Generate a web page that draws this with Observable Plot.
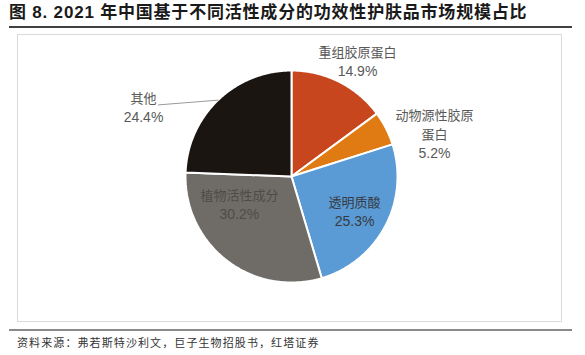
<!DOCTYPE html>
<html>
<head>
<meta charset="utf-8">
<script src="https://cdn.jsdelivr.net/npm/d3@7"></script>
<script src="https://cdn.jsdelivr.net/npm/@observablehq/plot@0.6"></script>
<style>
  body { margin: 0; background: #fff; }
  #page { position: relative; width: 585px; height: 355px; overflow: hidden; font-family: "Liberation Sans", "Noto Sans CJK SC", sans-serif; }
  #title { position: absolute; left: 9px; top: 3px; font-size: 17px; font-weight: bold; color: #1a1a1a; letter-spacing: 0.8px; white-space: nowrap; line-height: 20px; }
  #rule1 { position: absolute; left: 9px; top: 26px; width: 563px; height: 2px; background: #404040; }
  #box { position: absolute; left: 17px; top: 34px; width: 545px; height: 288px; box-sizing: border-box; border: 1px solid #dadada; }
  #chart { position: absolute; left: 17px; top: 34px; }
  #rule2 { position: absolute; left: 9px; top: 329px; width: 563px; height: 2px; background: #8a8a8a; }
  #source { position: absolute; left: 17px; top: 335px; font-size: 11px; letter-spacing: 1.1px; color: #333; font-family: "Noto Sans CJK SC", sans-serif; line-height: 15px; white-space: nowrap; }
  g[aria-label="names"] text { letter-spacing: 1px; }
</style>
</head>
<body>
<div id="page">
  <div id="title">图 8. 2021 年中国基于不同活性成分的功效性护肤品市场规模占比</div>
  <div id="rule1"></div>
  <div id="box"></div>
  <div id="chart"></div>
  <div id="rule2"></div>
  <div id="source">资料来源：弗若斯特沙利文，巨子生物招股书，红塔证券</div>
</div>
<script>
// ---- data ----
const categories = ["重组胶原蛋白", "动物源性胶原蛋白", "透明质酸", "植物活性成分", "其他"];
const shares = [14.9, 5.2, 25.3, 30.2, 24.4];
const valueLabels = ["14.9%", "5.2%", "25.3%", "30.2%", "24.4%"];

// ---- styling / layout (kept separate from data) ----
const sliceColors = ["#C8461E", "#DF7B12", "#5B9BD5", "#6F6C68", "#1B1512"];
const labelColors = ["#595959", "#595959", "#363a42", "#4e4b47", "#595959"];
const labelAngles = [30.0, 73.7, 119.7, 241.3, 294.7];   // degrees, clockwise from top
const labelRadii = [1.245, 1.405, 0.685, 0.56, 1.537];    // in pie radii
const leaderFor = 4;                                       // "其他" has a leader line
const leaderEnd = [298.3, 1.425];

const W = 545, H = 288, CX = 274, CY = 142, R = 106, LINE = 18.5;

const data = categories.map((c, i) => ({cat: c, share: shares[i], value: valueLabels[i], i}));
const arcs = d3.pie().sort(null).value(d => d.share)(data);

// polygon points per slice (unit radius, y up)
const poly = [];
for (const a of arcs) {
  poly.push({cat: a.data.cat, x: 0, y: 0});
  const n = Math.max(2, Math.ceil((a.endAngle - a.startAngle) / 0.01));
  for (let k = 0; k <= n; k++) {
    const t = a.startAngle + (a.endAngle - a.startAngle) * k / n;
    poly.push({cat: a.data.cat, x: Math.sin(t), y: Math.cos(t)});
  }
}

// label rows
const nameRows = [], valueRows = [];
arcs.forEach((a, i) => {
  const ang = labelAngles[i] * Math.PI / 180;
  const bx = labelRadii[i] * Math.sin(ang), by = labelRadii[i] * Math.cos(ang);
  const name = a.data.cat;
  const lines = name.length > 6 ? [name.slice(0, 6), name.slice(6)] : [name];
  const total = lines.length + 1;
  lines.forEach((t, k) => {
    const off = (k - (total - 1) / 2) * LINE / R;
    nameRows.push({text: t, x: bx, y: by - off, color: labelColors[i]});
  });
  const off = ((total - 1) - (total - 1) / 2) * LINE / R;
  valueRows.push({text: a.data.value, x: bx, y: by - off, color: labelColors[i]});
});

// leader line
const la = arcs[leaderFor];
const mid = (la.startAngle + la.endAngle) / 2;
const le = leaderEnd[0] * Math.PI / 180;
const leader = [
  {x: Math.sin(mid), y: Math.cos(mid)},
  {x: leaderEnd[1] * Math.sin(le), y: leaderEnd[1] * Math.cos(le)}
];

const colorsUsed = [...new Set(labelColors)];
const textMarks = [];
for (const c of colorsUsed) {
  textMarks.push(Plot.text(nameRows.filter(d => d.color === c), {
    x: "x", y: "y", text: "text", fill: c, fontSize: 13,
    fontFamily: "Noto Sans CJK SC", textAnchor: "middle", ariaLabel: "names"
  }));
  textMarks.push(Plot.text(valueRows.filter(d => d.color === c), {
    x: "x", y: "y", text: "text", fill: c, fontSize: 14,
    fontFamily: "Liberation Sans, Arial, sans-serif", textAnchor: "middle", ariaLabel: "values"
  }));
}

const chart = Plot.plot({
  width: W, height: H, margin: 0,
  style: {background: "transparent", overflow: "visible"},
  x: {domain: [-CX / R, (W - CX) / R], axis: null},
  y: {domain: [-(H - CY) / R, CY / R], axis: null},
  color: {domain: categories, range: sliceColors},
  marks: [
    Plot.line(poly, {x: "x", y: "y", z: "cat", fill: "cat", stroke: "white", strokeWidth: 2, curve: "linear-closed", strokeLinejoin: "miter"}),
    Plot.line(leader, {x: "x", y: "y", stroke: "#9a9a9a", strokeWidth: 1}),
    ...textMarks
  ]
});
document.getElementById("chart").appendChild(chart);
</script>
</body>
</html>
